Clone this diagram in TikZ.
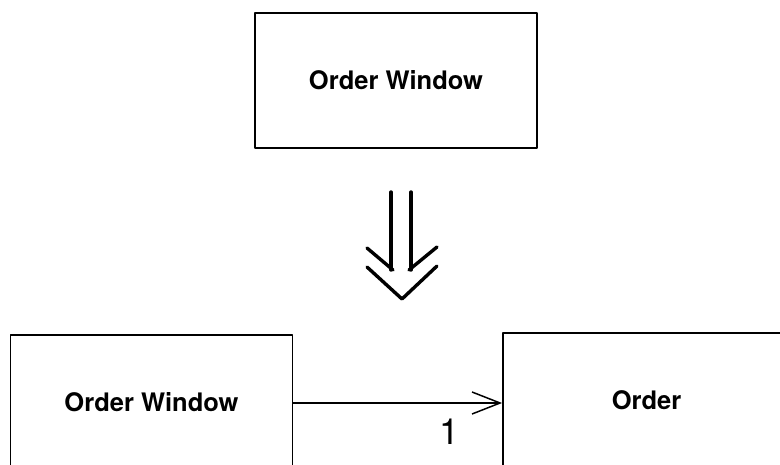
\documentclass[tikz,border=0pt]{standalone}
\usepackage{fontspec}
\setmainfont{TeX Gyre Heros}
\usetikzlibrary{arrows.meta}
\tikzset{
  classbox/.style={draw,line width=1.8pt,minimum width=282pt,minimum height=135pt,
    inner sep=0pt,font=\fontsize{25.5}{30}\selectfont\bfseries},
  assoc/.style={line width=1.5pt,-{Straight Barb[length=28pt,width=22pt,line width=1.5pt]}}
}
\begin{document}
\begin{tikzpicture}[x=1pt,y=-1pt,line cap=round,line join=round]
  \useasboundingbox (0,0) rectangle (780,465);
  \clip (0,0) rectangle (780,465);
  \node[classbox] (top) at (396,80.5) {Order Window};
  % refinement arrow
  \draw[line width=3.4pt] (391,192) -- (391,270);
  \draw[line width=3.4pt] (411,192) -- (411,270);
  \draw[line width=3.4pt] (367,248) -- (393,270);
  \draw[line width=3.4pt] (437,247) -- (409,270);
  \draw[line width=3.4pt] (367,267) -- (402,299) -- (437,266);
  \node[classbox] (win) at (151.5,402.5) {Order Window};
  \node[classbox,minimum width=287pt] (ord) at (646.5,400.5) {Order};
  \draw[assoc] (win.east |- 0,403) -- (ord.west |- 0,403)
    node[pos=0.75,below=12pt,font=\fontsize{36}{40}\selectfont] (one) {1};
\end{tikzpicture}
\end{document}
